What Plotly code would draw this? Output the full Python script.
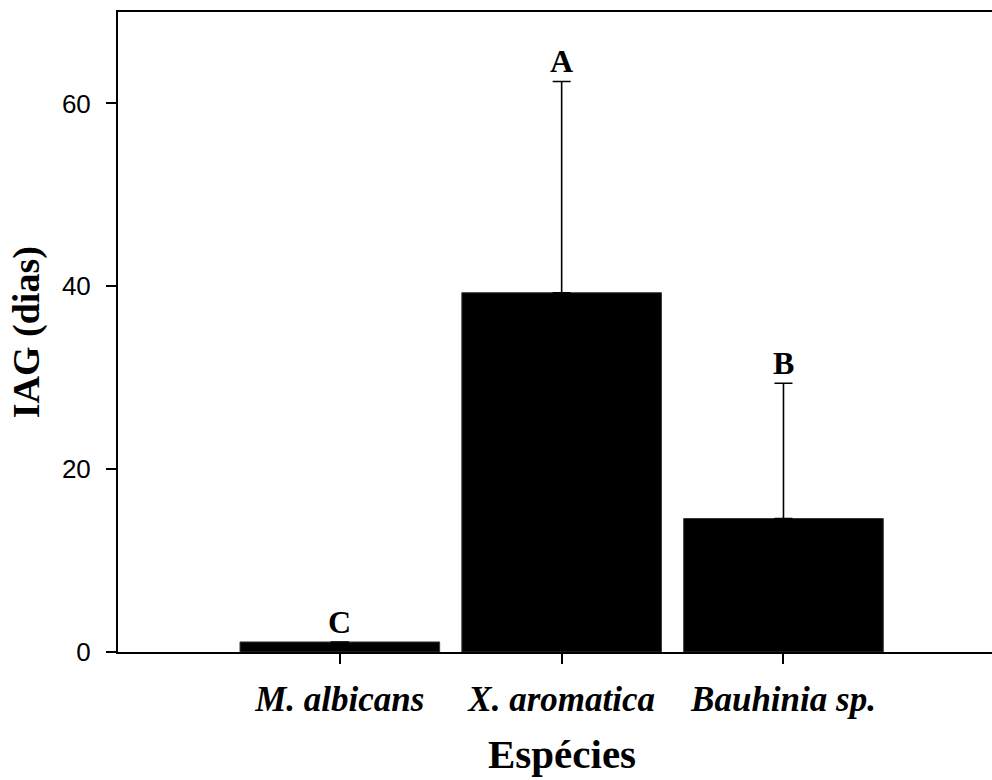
import plotly.graph_objects as go

# Species and mean IAG (days) with standard deviation
species = ["M. albicans", "X. aromatica", "Bauhinia sp."]
iag_mean = [1.1, 39.3, 14.6]
iag_sd = [0.0, 23.1, 14.8]
group_letters = ["C", "A", "B"]

x_pos = list(range(len(species)))

fig = go.Figure()

fig.add_trace(go.Bar(
    x=x_pos,
    y=iag_mean,
    width=0.9,
    marker=dict(color="black", line=dict(color="#3a3a3a", width=1)),
    error_y=dict(type="data", array=iag_sd, symmetric=False, arrayminus=[0] * len(species),
                 color="black", thickness=1.6, width=9),
    showlegend=False,
))

# significance letters above each bar / error bar
for xi, m, s, lab in zip(x_pos, iag_mean, iag_sd, group_letters):
    fig.add_annotation(
        x=xi, y=m + s, xref="x", yref="y",
        text=f"<b>{lab}</b>", showarrow=False,
        yanchor="bottom", yshift=0,
        font=dict(family="Liberation Serif", size=32, color="black"),
    )

# axis titles
fig.add_annotation(
    x=1, y=-0.16, xref="x", yref="paper",
    text="<b>Espécies</b>", showarrow=False, yanchor="middle",
    font=dict(family="Liberation Serif", size=41, color="black"),
)
fig.add_annotation(
    x=-0.105, y=0.5, xref="paper", yref="paper",
    text="<b>IAG (dias)</b>", showarrow=False, textangle=-90,
    xanchor="center", yanchor="middle",
    font=dict(family="Liberation Serif", size=38, color="black"),
)

fig.update_layout(
    width=992, height=780,
    margin=dict(l=118, r=0, t=12, b=128),
    paper_bgcolor="white", plot_bgcolor="white",
    bargap=0.1,
)

fig.update_xaxes(
    range=[-1.0, 2.94],
    tickmode="array", tickvals=x_pos, ticktext=species,
    tickfont=dict(family="Liberation Serif", size=35, color="black", weight="bold", style="italic"),
    ticks="outside", ticklen=10, tickwidth=1.5, tickcolor="black",
    ticklabelstandoff=5,
    showline=True, linecolor="black", linewidth=2, mirror=True,
    showgrid=False, zeroline=False,
)

fig.update_yaxes(
    range=[0, 70],
    tickmode="array", tickvals=[0, 20, 40, 60],
    tickfont=dict(family="Liberation Sans", size=26, color="black"),
    ticks="outside", ticklen=10, tickwidth=1.5, tickcolor="black",
    ticklabelstandoff=10,
    showline=True, linecolor="black", linewidth=2, mirror=False,
    showgrid=False, zeroline=False,
)

fig.write_html("out.html")
